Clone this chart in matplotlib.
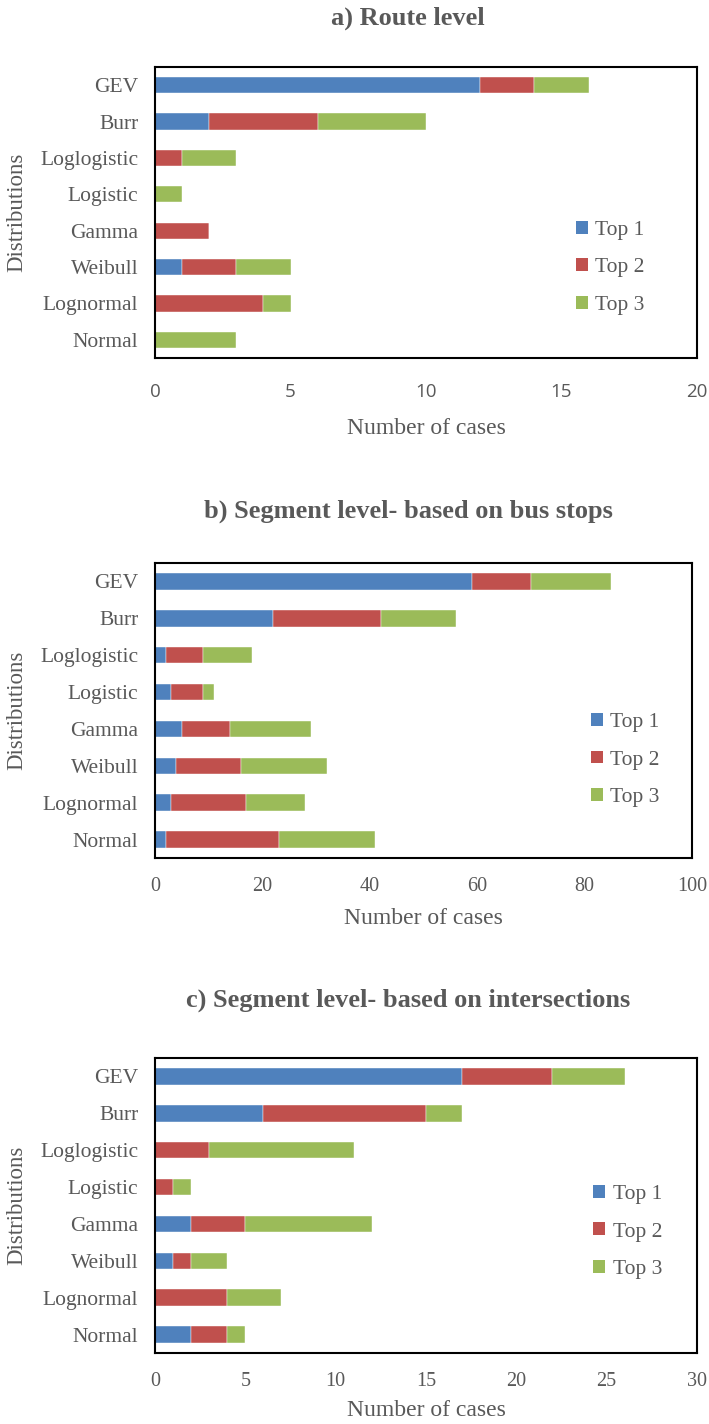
import matplotlib
matplotlib.use("Agg")
import matplotlib.pyplot as plt
from matplotlib.patches import Patch
import numpy as np

# Distribution names, listed from top to bottom of each chart
distributions = ["GEV", "Burr", "Loglogistic", "Logistic", "Gamma",
                 "Weibull", "Lognormal", "Normal"]
series_names = ["Top 1", "Top 2", "Top 3"]

# a) Route level
route_top1 = [12, 2, 0, 0, 0, 1, 0, 0]
route_top2 = [2, 4, 1, 0, 2, 2, 4, 0]
route_top3 = [2, 4, 2, 1, 0, 2, 1, 3]

# b) Segment level - based on bus stops
stops_top1 = [59, 22, 2, 3, 5, 4, 3, 2]
stops_top2 = [11, 20, 7, 6, 9, 12, 14, 21]
stops_top3 = [15, 14, 9, 2, 15, 16, 11, 18]

# c) Segment level - based on intersections
inter_top1 = [17, 6, 0, 0, 2, 1, 0, 2]
inter_top2 = [5, 9, 3, 1, 3, 1, 4, 2]
inter_top3 = [4, 2, 8, 1, 7, 2, 3, 1]

route_ticks = [0, 5, 10, 15, 20]
stops_ticks = [0, 20, 40, 60, 80, 100]
inter_ticks = [0, 5, 10, 15, 20, 25, 30]

colors = ["#4F81BD", "#C0504D", "#9BBB59"]
text_gray = "#595959"
serif = "Liberation Serif"

W, H = 709, 1424
fig = plt.figure(figsize=(W / 100, H / 100), dpi=100)


def px_axes(left, right, top, bottom):
    return fig.add_axes([left / W, 1 - bottom / H, (right - left) / W, (bottom - top) / H])


panels = [
    dict(title="a) Route level", data=(route_top1, route_top2, route_top3),
         ticks=route_ticks, box=(155, 697, 67, 358), title_y=18,
         tick_font="Open Sans", tick_size=13.5, tick_pad=18, xlabel_y=428,
         legend_xy=(0.84, 0.31)),
    dict(title="b) Segment level- based on bus stops", data=(stops_top1, stops_top2, stops_top3),
         ticks=stops_ticks, box=(155, 692, 563, 858), title_y=511,
         tick_font=serif, tick_size=14.5, tick_pad=14, xlabel_y=918,
         legend_xy=(0.876, 0.332)),
    dict(title="c) Segment level- based on intersections", data=(inter_top1, inter_top2, inter_top3),
         ticks=inter_ticks, box=(155, 697, 1058, 1353), title_y=1000,
         tick_font=serif, tick_size=14.5, tick_pad=14, xlabel_y=1410,
         legend_xy=(0.872, 0.41)),
]

y = np.arange(len(distributions))[::-1]

for p in panels:
    l, r, t, b = p["box"]
    ax = px_axes(l, r, t, b)
    left = np.zeros(len(distributions))
    for vals, c, name in zip(p["data"], colors, series_names):
        vals = np.asarray(vals, dtype=float)
        ax.barh(y, vals, left=left, height=0.45, color=c, label=name,
                edgecolor="white", linewidth=0.3)
        left += vals
    ax.set_xlim(p["ticks"][0], p["ticks"][-1])
    ax.set_ylim(-0.5, len(distributions) - 0.5)
    ax.set_yticks(y)
    ax.set_yticklabels(distributions, fontfamily=serif, fontsize=15.5, color=text_gray)
    ax.set_xticks(p["ticks"])
    ax.set_xticklabels([str(v) for v in p["ticks"]], fontfamily=p["tick_font"],
                       fontsize=p["tick_size"], color=text_gray)
    ax.tick_params(axis="both", length=0)
    ax.tick_params(axis="x", pad=p["tick_pad"])
    ax.tick_params(axis="y", pad=12)
    for s in ax.spines.values():
        s.set_color("black")
        s.set_linewidth(1.5)

    handles = [Patch(facecolor=c, edgecolor="none") for c in colors]
    ax.legend(handles, series_names, loc="center", bbox_to_anchor=p["legend_xy"],
              frameon=False, prop=dict(family=serif, size=15.5),
              labelcolor=text_gray, handlelength=0.55, handleheight=0.55,
              handletextpad=0.35, labelspacing=0.85)

    fig.text(408 / W, 1 - p["title_y"] / H, p["title"], ha="center", va="center",
             fontfamily=serif, fontweight="bold", fontsize=19, color=text_gray)
    fig.text((l + r) / 2 / W, 1 - p["xlabel_y"] / H, "Number of cases", ha="center",
             va="center", fontfamily=serif, fontsize=17, color=text_gray)
    fig.text(17 / W, 1 - (t + b) / 2 / H, "Distributions", ha="center", va="center",
             rotation=90, fontfamily=serif, fontsize=16.5, color=text_gray)

fig.savefig("out.png", dpi=100, facecolor="white")
